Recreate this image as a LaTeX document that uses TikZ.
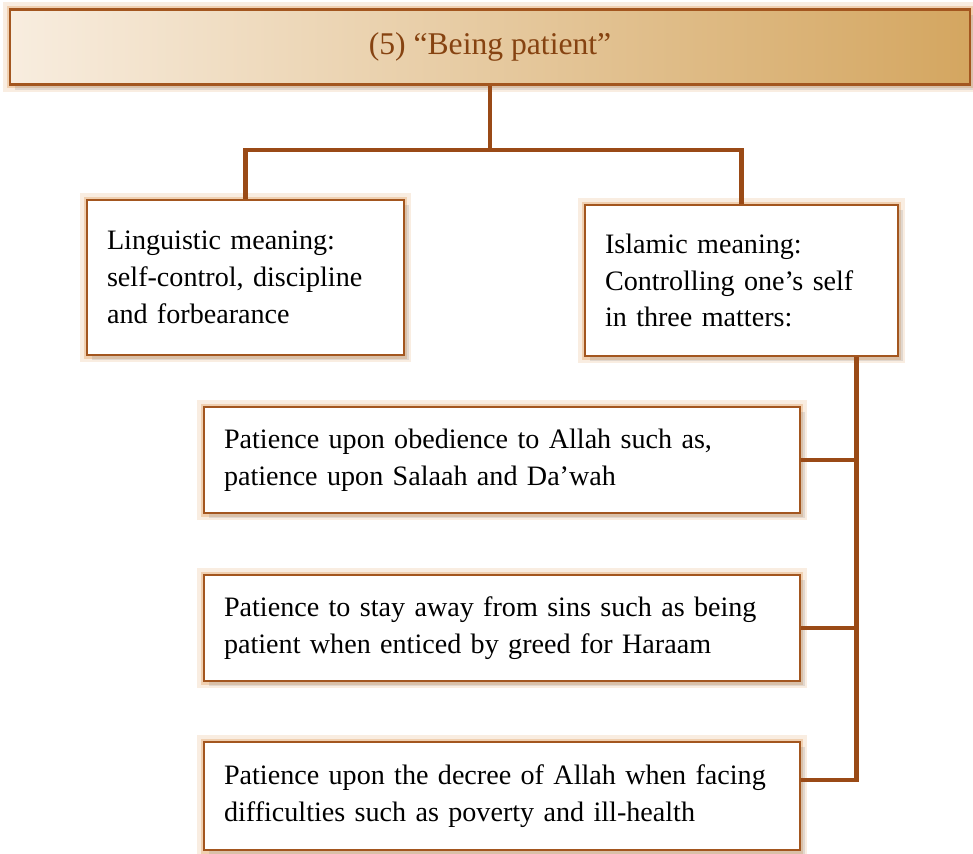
\documentclass[tikz,border=0pt]{standalone}
\usepackage{fontspec}
\setmainfont{Liberation Serif}
\usetikzlibrary{positioning,shadows}

\definecolor{linebrown}{HTML}{9A4A16}
\definecolor{boxbrown}{HTML}{A3561F}
\definecolor{glowtan}{HTML}{E2A56A}
\definecolor{titlelight}{HTML}{F8EDDF}
\definecolor{titledark}{HTML}{D4A660}
\definecolor{titletext}{HTML}{864311}

\begin{document}
\begin{tikzpicture}[x=0.02cm,y=-0.02cm,
    box/.style={rectangle,draw=boxbrown,line width=1.2pt,fill=white,
      align=left,inner xsep=0.4cm,font=\fontsize{16}{21}\selectfont,
      execute at begin node={\hyphenpenalty=10000},
      preaction={draw=glowtan,line width=8pt,opacity=0.2},
      preaction={draw=glowtan,line width=4pt,opacity=0.4},
      drop shadow={shadow xshift=3pt,shadow yshift=-3pt,opacity=0.2}},
    link/.style={draw=linebrown,line width=2.8pt}]
  \useasboundingbox (0,0) rectangle (973,853);

  \node[box,left color=titlelight,right color=titledark,align=center,
    minimum width=19.2cm,minimum height=1.5cm,text=titletext,
    font=\fontsize{18}{22}\selectfont]
    (title) at (490,47) {(5) “Being patient”};

  \node[box,text width=5.54cm,minimum height=3.1cm] (ling) at (245.5,277.5)
    {Linguistic meaning:\\ self-control, discipline\\ and forbearance};
  \node[box,text width=5.46cm,minimum height=3.02cm] (islam) at (741.5,280.5)
    {Islamic meaning:\\ Controlling one’s self\\ in three matters:};

  \node[box,text width=11.12cm,minimum height=2.12cm] (obey) at (502,460)
    {Patience upon obedience to Allah such as,\\ patience upon Salaah and Da’wah};
  \node[box,text width=11.12cm,minimum height=2.12cm] (sins) at (502,628)
    {Patience to stay away from sins such as being\\ patient when enticed by greed for Haraam};
  \node[box,text width=11.12cm,minimum height=2.16cm] (decree) at (502,796)
    {Patience upon the decree of Allah when facing\\ difficulties such as poverty and ill-health};

  % connectors
  \coordinate (split) at (490,150);
  \coordinate (trunk) at ([xshift=-0.86cm]islam.south east);
  \draw[link] (title) -- (split);
  \draw[link] (split) -| (ling);
  \draw[link] (split) -| (islam);
  \draw[link] (trunk) |- ([yshift=0.32cm]decree.east);
  \draw[link] (obey.east) -- (obey.east -| trunk);
  \draw[link] (sins.east) -- (sins.east -| trunk);
\end{tikzpicture}
\end{document}
